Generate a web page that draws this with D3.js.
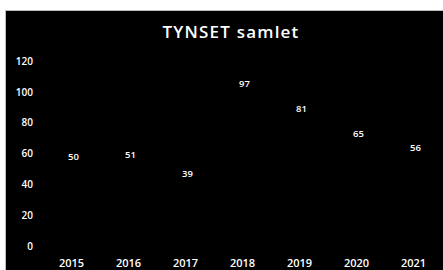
<!DOCTYPE html>
<meta charset="utf-8">
<html>
<head>
<script src="https://d3js.org/d3.v7.min.js"></script>
<style>
  body { margin: 0; background: #fff; }
  text { font-family: "Open Sans", "Liberation Sans", sans-serif; fill: #fff; }
</style>
</head>
<body>
<div id="chart"></div>
<script>
// data
var years = ["2015", "2016", "2017", "2018", "2019", "2020", "2021"]
var values = [50, 51, 39, 97, 81, 65, 56]
var yTicks = [0, 20, 40, 60, 80, 100, 120]

var W = 443, H = 270

var svg = d3.select("#chart").append("svg")
  .attr("width", W).attr("height", H)

// black panel with light grey edge
svg.append("rect")
  .attr("x", 5.5).attr("y", 10.5)
  .attr("width", W).attr("height", H)
  .attr("fill", "#000")
  .attr("stroke", "#bdbdbd").attr("stroke-width", 1)

svg.append("text")
  .attr("x", 231).attr("y", 38)
  .attr("text-anchor", "middle")
  .style("font-size", "17px")
  .style("font-weight", "600")
  .style("letter-spacing", "1.2px")
  .text("TYNSET samlet")

var x = d3.scaleBand().domain(years).range([43, 442])
var y = d3.scaleLinear().domain([0, 120]).range([246, 61])

// y axis labels
var yAxis = d3.axisLeft(y).tickValues(yTicks).tickSize(0).tickPadding(0)
var gy = svg.append("g").attr("transform", "translate(33,0)").call(yAxis)
gy.select(".domain").remove()
gy.selectAll("text").style("font-size", "10px").style("font-weight", "600").attr("fill", "#fff")

// x axis labels
var xAxis = d3.axisBottom(x).tickSize(0).tickPadding(0)
var gx = svg.append("g").attr("transform", "translate(0,259)").call(xAxis)
gx.select(".domain").remove()
gx.selectAll("text").style("font-size", "11px").style("font-weight", "600").attr("fill", "#fff")

// points (black on black, as in the original)
svg.selectAll("circle.pt")
  .data(values)
  .enter().append("circle")
  .attr("class", "pt")
  .attr("cx", function (d, i) { return x(years[i]) + x.bandwidth() / 2 })
  .attr("cy", function (d) { return y(d) })
  .attr("r", 3)
  .attr("fill", "#000")

// value labels
svg.selectAll("text.lbl")
  .data(values)
  .enter().append("text")
  .attr("class", "lbl")
  .attr("x", function (d, i) { return x(years[i]) + x.bandwidth() / 2 + 2 })
  .attr("y", function (d) { return y(d) - 9 })
  .attr("text-anchor", "middle")
  .style("font-size", "9.5px")
  .style("font-weight", "600")
  .text(function (d) { return d })
</script>
</body>
</html>
